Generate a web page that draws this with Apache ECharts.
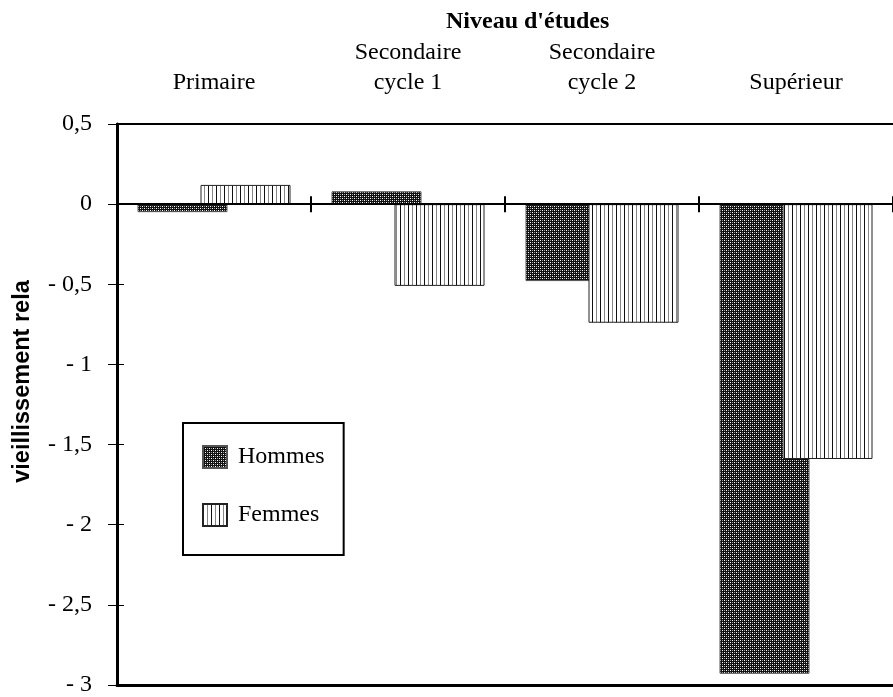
<!DOCTYPE html>
<html>
<head>
<meta charset="utf-8">
<script src="https://cdn.jsdelivr.net/npm/echarts@6/dist/echarts.min.js"></script>
<style>
  html, body { margin: 0; padding: 0; background: #fff; }
  #chartbox { width: 893px; height: 697px; }
</style>
</head>
<body>
<div id="chartbox"></div>
<script>
// niveaux d'études (catégories)
const categories = ["Primaire", "Secondaire\ncycle 1", "Secondaire\ncycle 2", "Supérieur"];
const hommes = [-0.05, 0.08, -0.48, -2.93];
const femmes = [0.12, -0.51, -0.74, -1.59];
const yMin = -3;
const yMax = 0.5;
const yStep = 0.5;

// motifs de remplissage
const makeDots = () => {
    let c = document.createElement("canvas");
    c.width = 4; c.height = 4;
    let ctx = c.getContext("2d");
    ctx.fillStyle = "#111";
    ctx.fillRect(0, 0, 4, 4);
    ctx.fillStyle = "#fff";
    ctx.fillRect(0, 0, 1, 1);
    ctx.fillRect(2, 2, 1, 1);
    ctx.fillStyle = "#999";
    ctx.fillRect(2, 0, 1, 1);
    ctx.fillRect(0, 2, 1, 1);
    return c;
};
const makeStripes = () => {
    let c = document.createElement("canvas");
    c.width = 8; c.height = 4;
    let ctx = c.getContext("2d");
    ctx.fillStyle = "#fff";
    ctx.fillRect(0, 0, 8, 4);
    ctx.fillStyle = "#111";
    ctx.fillRect(0, 0, 1, 4);
    ctx.fillStyle = "#888";
    ctx.fillRect(4, 0, 1, 4);
    return c;
};

const serif = "'Liberation Serif', 'Times New Roman', serif";
const fmt = (v) => {
    let s = String(Math.abs(v)).replace(".", ",");
    return v < 0 ? "- " + s : s;
};

let myChart = echarts.init(document.getElementById("chartbox"));
let option = {
    animation: false,
    title: {
        text: "Niveau d'études",
        left: 446,
        top: 10,
        padding: 0,
        textStyle: { fontFamily: serif, fontSize: 24, fontWeight: "bold", color: "#000" },
    },
    legend: {
        orient: "vertical",
        left: 183,
        top: 423,
        padding: [22, 19, 28, 19],
        itemGap: 34,
        itemWidth: 24,
        itemHeight: 22,
        icon: "rect",
        borderColor: "#000",
        borderWidth: 2,
        textStyle: { fontFamily: serif, fontSize: 24, color: "#000", padding: [0, 0, 0, 6] },
        data: ["Hommes", "Femmes"],
    },
    grid: {
        left: 117,
        width: 783,
        top: 124,
        height: 565,
    },
    xAxis: [
        {
            type: "category",
            data: categories,
            position: "bottom",
            z: 5,
            axisLine: { onZero: true, onZeroAxisIndex: 0, lineStyle: { color: "#000", width: 2 } },
            axisTick: { show: true, inside: false, length: 8, lineStyle: { color: "#000", width: 2 } },
            axisLabel: { show: false },
        },
        {
            type: "category",
            data: categories,
            position: "bottom",
            z: 5,
            axisLine: { show: false, onZero: true, onZeroAxisIndex: 0 },
            axisTick: { show: true, inside: true, length: 8, lineStyle: { color: "#000", width: 2 } },
            axisLabel: { show: false },
        },
        {
            type: "category",
            data: categories,
            position: "top",
            axisLine: { onZero: false, lineStyle: { color: "#000", width: 2 } },
            axisTick: { show: false },
            axisLabel: {
                fontFamily: serif,
                fontSize: 24,
                lineHeight: 30,
                color: "#000",
                margin: 26,
                interval: 0,
            },
        },
        {
            type: "category",
            data: categories,
            position: "bottom",
            axisLine: { onZero: false, lineStyle: { color: "#000", width: 3 } },
            axisTick: { show: false },
            axisLabel: { show: false },
        },
    ],
    yAxis: [
        {
            type: "value",
            min: yMin,
            max: yMax,
            interval: yStep,
            name: "vieillissement rela",
            nameLocation: "middle",
            nameGap: 82,
            nameTextStyle: {
                fontFamily: "'Liberation Sans', Arial, sans-serif",
                fontSize: 23.5,
                fontWeight: "bold",
                color: "#000",
                padding: [0, 0, 0, 46],
            },
            axisLine: { show: true, lineStyle: { color: "#000", width: 3 } },
            axisTick: { show: true, inside: false, length: 9, lineStyle: { color: "#000", width: 1 } },
            axisLabel: {
                fontFamily: serif,
                fontSize: 24,
                color: "#000",
                margin: 25,
                formatter: fmt,
            },
            splitLine: { show: false },
        },
        {
            type: "value",
            min: yMin,
            max: yMax,
            interval: yStep,
            position: "left",
            axisLine: { show: false },
            axisTick: { show: true, inside: true, length: 7, lineStyle: { color: "#000", width: 1 } },
            axisLabel: { show: false },
            splitLine: { show: false },
        },
    ],
    series: [
        {
            name: "Hommes",
            type: "bar",
            xAxisIndex: 0,
            yAxisIndex: 0,
            barWidth: 90,
            barGap: "-30%",
            itemStyle: {
                color: { image: makeDots(), repeat: "repeat" },
                borderColor: "#555",
                borderWidth: 1,
            },
            data: hommes,
        },
        {
            name: "Femmes",
            type: "bar",
            xAxisIndex: 0,
            yAxisIndex: 0,
            barWidth: 90,
            barGap: "-30%",
            itemStyle: {
                color: { image: makeStripes(), repeat: "repeat" },
                borderColor: "#222",
                borderWidth: 1,
            },
            data: femmes,
        },
    ],
};
option && myChart.setOption(option);
</script>
</body>
</html>
